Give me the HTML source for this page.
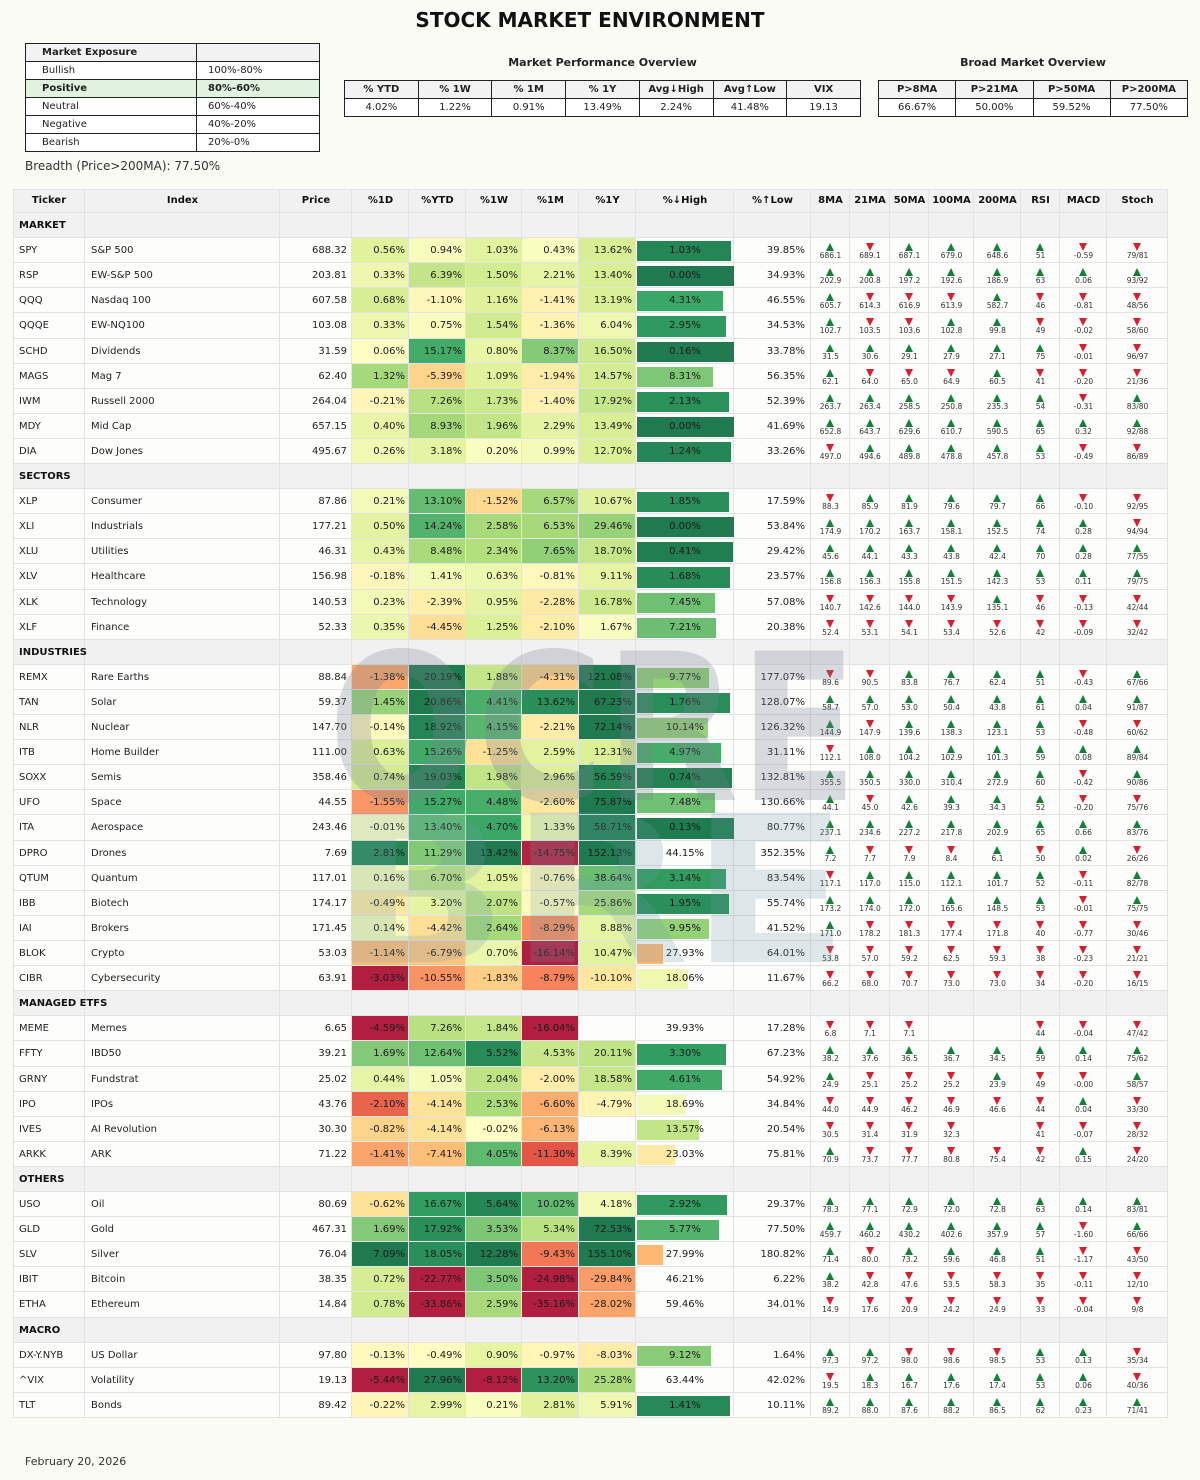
<!DOCTYPE html>
<html><head><meta charset="utf-8">
<style>
html,body{margin:0;padding:0;background:#fbfbf6;}
body{width:1200px;height:1480px;position:relative;overflow:hidden;font-family:"DejaVu Sans","Liberation Sans",sans-serif;color:#222;}
.a{position:absolute;box-sizing:border-box;}
.t{position:absolute;white-space:nowrap;}
table.s{position:absolute;border-collapse:collapse;font-size:10px;}
table.s td{border:1.5px solid #222;height:18px;padding:0 0 0 0;box-sizing:border-box;}
table.f{table-layout:fixed;}
</style></head><body>
<div class="t" style="left:0;width:1180px;text-align:center;top:8px;font-size:20px;font-weight:bold;color:#111;">STOCK MARKET ENVIRONMENT</div>

<table class="s" style="left:25px;top:43px;width:295px;">
<tr style="background:#f2f2f2;font-weight:bold"><td style="width:171px;padding-left:16px">Market Exposure</td><td></td></tr>
<tr style="background:#fff"><td style="padding-left:16px">Bullish</td><td style="padding-left:11px">100%-80%</td></tr>
<tr style="background:#e1f2e1;font-weight:bold"><td style="padding-left:16px">Positive</td><td style="padding-left:11px">80%-60%</td></tr>
<tr style="background:#fff"><td style="padding-left:16px">Neutral</td><td style="padding-left:11px">60%-40%</td></tr>
<tr style="background:#fff"><td style="padding-left:16px">Negative</td><td style="padding-left:11px">40%-20%</td></tr>
<tr style="background:#fff"><td style="padding-left:16px">Bearish</td><td style="padding-left:11px">20%-0%</td></tr>
</table>
<div class="t" style="left:25px;top:159px;font-size:12px;color:#333">Breadth (Price&gt;200MA): 77.50%</div>

<div class="t" style="left:345px;width:515px;text-align:center;top:56px;font-size:11px;font-weight:bold">Market Performance Overview</div>
<table class="s f" style="left:344px;top:80px;width:517px;text-align:center">
<tr style="background:#f2f2f2;font-weight:bold"><td>% YTD</td><td>% 1W</td><td>% 1M</td><td>% 1Y</td><td>Avg↓High</td><td>Avg↑Low</td><td>VIX</td></tr>
<tr style="background:#fff"><td>4.02%</td><td>1.22%</td><td>0.91%</td><td>13.49%</td><td>2.24%</td><td>41.48%</td><td>19.13</td></tr>
</table>
<div class="t" style="left:878px;width:310px;text-align:center;top:56px;font-size:11px;font-weight:bold">Broad Market Overview</div>
<table class="s f" style="left:878px;top:80px;width:310px;text-align:center">
<tr style="background:#f2f2f2;font-weight:bold"><td>P&gt;8MA</td><td>P&gt;21MA</td><td>P&gt;50MA</td><td>P&gt;200MA</td></tr>
<tr style="background:#fff"><td>66.67%</td><td>50.00%</td><td>59.52%</td><td>77.50%</td></tr>
</table>

<div id="tb"></div>
<div class="t" style="left:25px;top:1455px;font-size:11px;color:#333">February 20, 2026</div>

<script>
var X=[13,85,280,352,409,466,522,579,636,734,811,850,890,929,974,1021,1060,1107,1168];
var H=["Ticker","Index","Price","%1D","%YTD","%1W","%1M","%1Y","%↓High","%↑Low","8MA","21MA","50MA","100MA","200MA","RSI","MACD","Stoch"];
var D=[
"#MARKET",
"SPY|S&P 500|688.32|0.56|0.94|1.03|0.43|13.62|1.03|39.85|u686.1 d689.1 u687.1 u679.0 u648.6 u51 d-0.59 d79/81",
"RSP|EW-S&P 500|203.81|0.33|6.39|1.50|2.21|13.40|0.00|34.93|u202.9 u200.8 u197.2 u192.6 u186.9 u63 u0.06 u93/92",
"QQQ|Nasdaq 100|607.58|0.68|-1.10|1.16|-1.41|13.19|4.31|46.55|u605.7 d614.3 d616.9 d613.9 u582.7 d46 d-0.81 d48/56",
"QQQE|EW-NQ100|103.08|0.33|0.75|1.54|-1.36|6.04|2.95|34.53|u102.7 d103.5 d103.6 u102.8 u99.8 d49 d-0.02 d58/60",
"SCHD|Dividends|31.59|0.06|15.17|0.80|8.37|16.50|0.16|33.78|u31.5 u30.6 u29.1 u27.9 u27.1 u75 d-0.01 d96/97",
"MAGS|Mag 7|62.40|1.32|-5.39|1.09|-1.94|14.57|8.31|56.35|u62.1 d64.0 d65.0 d64.9 u60.5 d41 d-0.20 d21/36",
"IWM|Russell 2000|264.04|-0.21|7.26|1.73|-1.40|17.92|2.13|52.39|u263.7 u263.4 u258.5 u250.8 u235.3 u54 d-0.31 u83/80",
"MDY|Mid Cap|657.15|0.40|8.93|1.96|2.29|13.49|0.00|41.69|u652.8 u643.7 u629.6 u610.7 u590.5 u65 u0.32 u92/88",
"DIA|Dow Jones|495.67|0.26|3.18|0.20|0.99|12.70|1.24|33.26|d497.0 u494.6 u489.8 u478.8 u457.8 u53 d-0.49 d86/89",
"#SECTORS",
"XLP|Consumer|87.86|0.21|13.10|-1.52|6.57|10.67|1.85|17.59|d88.3 u85.9 u81.9 u79.6 u79.7 u66 d-0.10 d92/95",
"XLI|Industrials|177.21|0.50|14.24|2.58|6.53|29.46|0.00|53.84|u174.9 u170.2 u163.7 u158.1 u152.5 u74 u0.28 d94/94",
"XLU|Utilities|46.31|0.43|8.48|2.34|7.65|18.70|0.41|29.42|u45.6 u44.1 u43.3 u43.8 u42.4 u70 u0.28 u77/55",
"XLV|Healthcare|156.98|-0.18|1.41|0.63|-0.81|9.11|1.68|23.57|u156.8 u156.3 u155.8 u151.5 u142.3 u53 u0.11 u79/75",
"XLK|Technology|140.53|0.23|-2.39|0.95|-2.28|16.78|7.45|57.08|d140.7 d142.6 d144.0 d143.9 u135.1 d46 d-0.13 d42/44",
"XLF|Finance|52.33|0.35|-4.45|1.25|-2.10|1.67|7.21|20.38|d52.4 d53.1 d54.1 d53.4 d52.6 d42 d-0.09 d32/42",
"#INDUSTRIES",
"REMX|Rare Earths|88.84|-1.38|20.19|1.88|-4.31|121.08|9.77|177.07|d89.6 d90.5 u83.8 u76.7 u62.4 u51 d-0.43 u67/66",
"TAN|Solar|59.37|1.45|20.86|4.41|13.62|67.23|1.76|128.07|u58.7 u57.0 u53.0 u50.4 u43.8 u61 u0.04 u91/87",
"NLR|Nuclear|147.70|-0.14|18.92|4.15|-2.21|72.14|10.14|126.32|u144.9 d147.9 u139.6 u138.3 u123.1 u53 d-0.48 d60/62",
"ITB|Home Builder|111.00|0.63|15.26|-1.25|2.59|12.31|4.97|31.11|d112.1 u108.0 u104.2 u102.9 u101.3 u59 u0.08 u89/84",
"SOXX|Semis|358.46|0.74|19.03|1.98|2.96|56.59|0.74|132.81|u355.5 u350.5 u330.0 u310.4 u272.9 u60 d-0.42 u90/86",
"UFO|Space|44.55|-1.55|15.27|4.48|-2.60|75.87|7.48|130.66|u44.1 d45.0 u42.6 u39.3 u34.3 u52 d-0.20 d75/76",
"ITA|Aerospace|243.46|-0.01|13.40|4.70|1.33|58.71|0.13|80.77|u237.1 u234.6 u227.2 u217.8 u202.9 u65 u0.66 u83/76",
"DPRO|Drones|7.69|2.81|11.29|13.42|-14.75|152.13|44.15|352.35|u7.2 d7.7 d7.9 d8.4 u6.1 d50 u0.02 d26/26",
"QTUM|Quantum|117.01|0.16|6.70|1.05|-0.76|38.64|3.14|83.54|d117.1 u117.0 u115.0 u112.1 u101.7 u52 d-0.11 u82/78",
"IBB|Biotech|174.17|-0.49|3.20|2.07|-0.57|25.86|1.95|55.74|u173.2 u174.0 u172.0 u165.6 u148.5 u53 d-0.01 u75/75",
"IAI|Brokers|171.45|0.14|-4.42|2.64|-8.29|8.88|9.95|41.52|u171.0 d178.2 d181.3 d177.4 d171.8 d40 d-0.77 d30/46",
"BLOK|Crypto|53.03|-1.14|-6.79|0.70|-16.14|10.47|27.93|64.01|d53.8 d57.0 d59.2 d62.5 d59.3 d38 d-0.23 d21/21",
"CIBR|Cybersecurity|63.91|-3.03|-10.55|-1.83|-8.79|-10.10|18.06|11.67|d66.2 d68.0 d70.7 d73.0 d73.0 d34 d-0.20 d16/15",
"#MANAGED ETFS",
"MEME|Memes|6.65|-4.59|7.26|1.84|-16.04||39.93|17.28|d6.8 d7.1 d7.1 - - d44 d-0.04 d47/42",
"FFTY|IBD50|39.21|1.69|12.64|5.52|4.53|20.11|3.30|67.23|u38.2 u37.6 u36.5 u36.7 u34.5 u59 u0.14 u75/62",
"GRNY|Fundstrat|25.02|0.44|1.05|2.04|-2.00|18.58|4.61|54.92|u24.9 d25.1 d25.2 d25.2 u23.9 d49 d-0.00 u58/57",
"IPO|IPOs|43.76|-2.10|-4.14|2.53|-6.60|-4.79|18.69|34.84|d44.0 d44.9 d46.2 d46.9 d46.6 d44 u0.04 d33/30",
"IVES|AI Revolution|30.30|-0.82|-4.14|-0.02|-6.13||13.57|20.54|d30.5 d31.4 d31.9 d32.3 - d41 d-0.07 d28/32",
"ARKK|ARK|71.22|-1.41|-7.41|4.05|-11.30|8.39|23.03|75.81|u70.9 d73.7 d77.7 d80.8 d75.4 d42 u0.15 d24/20",
"#OTHERS",
"USO|Oil|80.69|-0.62|16.67|5.64|10.02|4.18|2.92|29.37|u78.3 u77.1 u72.9 u72.0 u72.8 u63 u0.14 u83/81",
"GLD|Gold|467.31|1.69|17.92|3.53|5.34|72.53|5.77|77.50|u459.7 u460.2 u430.2 u402.6 u357.9 u57 d-1.60 u66/66",
"SLV|Silver|76.04|7.09|18.05|12.28|-9.43|155.10|27.99|180.82|u71.4 d80.0 u73.2 u59.6 u46.8 u51 d-1.17 d43/50",
"IBIT|Bitcoin|38.35|0.72|-22.77|3.50|-24.98|-29.84|46.21|6.22|u38.2 d42.8 d47.6 d53.5 d58.3 d35 d-0.11 d12/10",
"ETHA|Ethereum|14.84|0.78|-33.86|2.59|-35.16|-28.02|59.46|34.01|d14.9 d17.6 d20.9 d24.2 d24.9 d33 d-0.04 d9/8",
"#MACRO",
"DX-Y.NYB|US Dollar|97.80|-0.13|-0.49|0.90|-0.97|-8.03|9.12|1.64|u97.3 u97.2 d98.0 d98.6 d98.5 u53 u0.13 d35/34",
"^VIX|Volatility|19.13|-5.44|27.96|-8.12|13.20|25.28|63.44|42.02|d19.5 u18.3 u16.7 u17.6 u17.4 u53 u0.06 d40/36",
"TLT|Bonds|89.42|-0.22|2.99|0.21|2.81|5.91|1.41|10.11|u89.2 u88.0 u87.6 u88.2 u86.5 u62 u0.23 u71/41"
];
var CM=[[165,0,38],[215,48,39],[244,109,67],[253,174,97],[254,224,139],[255,255,191],[217,239,139],[166,217,106],[102,189,99],[26,152,80],[0,104,55]];
function col(t){t=Math.max(0,Math.min(1,t));var f=t*10,i=Math.min(9,Math.floor(f)),r=f-i,a=CM[i],b=CM[i+1],al=0.88;
var c=[0,1,2].map(function(k){var v=a[k]+(b[k]-a[k])*r;return Math.round(v*al+255*(1-al));});return "rgb("+c.join(",")+")";}
var SC=[3,20,6,15,60];
var h="";
function cell(x0,x1,y,hh,bg,extra){return '<div class="a" style="left:'+x0+'px;top:'+y+'px;width:'+(x1-x0)+'px;height:'+hh+'px;border-right:1px solid #e3e3e3;border-bottom:1px solid #e3e3e3;background:'+bg+';'+(extra||'')+'"></div>';}
function txt(x0,x1,y,hh,s,al,st){return '<div class="t" style="left:'+x0+'px;top:'+y+'px;width:'+(x1-x0)+'px;height:'+hh+'px;line-height:'+hh+'px;text-align:'+al+';font-size:10px;'+(st||'')+'">'+s+'</div>';}
var hy=189,hh=24;
for(var c=0;c<18;c++){h+=cell(X[c],X[c+1],hy,hh,"#f1f1f1");h+=txt(X[c],X[c+1],hy,hh,H[c],"center","font-weight:bold;color:#111");}
var RH=25.104;
var esc=function(s){return s.replace(/&/g,"&amp;");};
for(var i=0;i<D.length;i++){
 var y=Math.round(213+i*RH),y2=Math.round(213+(i+1)*RH),rh=y2-y,row=D[i];
 if(row[0]=="#"){for(var c=0;c<18;c++)h+=cell(X[c],X[c+1],y,rh,"#f1f1f2");h+=txt(X[0]+6,X[2],y,rh,row.slice(1),"left","font-weight:bold;color:#111");continue;}
 var p=row.split("|"),bg="#fdfdfc";
 for(var c=0;c<18;c++){var b=bg;
  if(c>=3&&c<=7&&p[c]!==""){var v=parseFloat(p[c]);b=col(0.5+v/(2*SC[c-3]));}
  h+=cell(X[c],X[c+1],y,rh,b);}
 h+=txt(X[0]+6,X[1],y,rh,esc(p[0]),"left");
 h+=txt(X[1]+6,X[2],y,rh,esc(p[1]),"left");
 h+=txt(X[2],X[3]-5,y,rh,p[2],"right");
 for(var c=3;c<=7;c++){if(p[c]!=="")h+=txt(X[c],X[c+1]-4,y,rh,p[c]+"%","right","color:#1a1a1a");}
 var hv=parseFloat(p[8]);
 if(hv<38){var w=Math.round((1-hv/38)*97);h+='<div class="a" style="left:637px;top:'+(y+3)+'px;width:'+w+'px;height:'+(rh-5)+'px;background:'+col(1-hv/40)+'"></div>';}
 h+=txt(X[8],X[9],y,rh,p[8]+"%","center","color:#1a1a1a");
 h+=txt(X[9],X[10]-6,y,rh,p[9]+"%","right");
 var s=p[10].split(" ");
 for(var k=0;k<8;k++){var q=s[k];if(q=="-")continue;var up=q[0]=="u",val=q.slice(1),cx=(X[10+k]+X[11+k])/2;
  if(up)h+='<div class="a" style="left:'+(cx-4.5)+'px;top:'+(y+5)+'px;width:0;height:0;border-left:4.5px solid transparent;border-right:4.5px solid transparent;border-bottom:8px solid #15803a"></div>';
  else h+='<div class="a" style="left:'+(cx-4.5)+'px;top:'+(y+5)+'px;width:0;height:0;border-left:4.5px solid transparent;border-right:4.5px solid transparent;border-top:8px solid #d7202f"></div>';
  h+='<div class="t" style="left:'+(cx-25)+'px;width:50px;text-align:center;top:'+(y+13)+'px;font-size:7.5px;color:#333">'+val+'</div>';}
}
h+='<div class="a" style="left:13px;top:189px;width:1155px;height:1229px;border-left:1px solid #e3e3e3;border-top:1px solid #e3e3e3"></div>';
h+='<svg class="a" style="left:0;top:0" width="1200" height="1480"><g font-family="DejaVu Sans" font-weight="bold">'+
'<text x="328" y="800" font-size="205" fill="rgba(120,128,145,0.28)" textLength="530" lengthAdjust="spacingAndGlyphs">OCRE</text>'+
'<text x="330" y="962" font-size="205" fill="rgba(110,155,170,0.22)" textLength="520" lengthAdjust="spacingAndGlyphs">BRE</text></g></svg>';
document.getElementById("tb").innerHTML=h;
</script>
</body></html>
